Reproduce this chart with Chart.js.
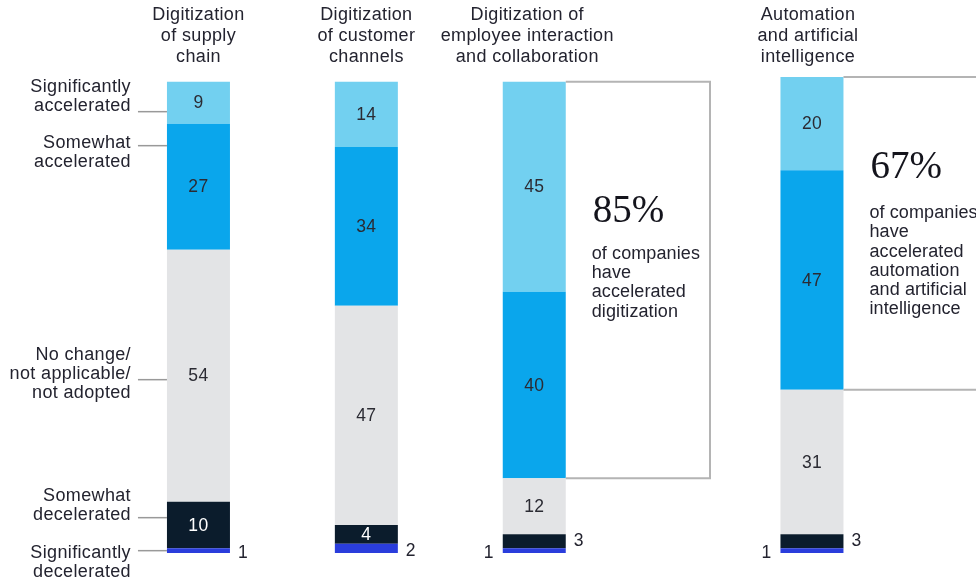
<!DOCTYPE html>
<html>
<head>
<meta charset="utf-8">
<script src="https://cdn.jsdelivr.net/npm/chart.js@4/dist/chart.umd.min.js"></script>
<style>
  html, body { margin: 0; padding: 0; background: #ffffff; }
  #wrap { width: 976px; height: 584px; position: relative; }
</style>
</head>
<body>
<div id="wrap"><canvas id="c" width="976" height="584"></canvas></div>
<script>
// Survey areas (column titles, one line per entry)
const categories = [
  ["Digitization", "of supply", "chain"],
  ["Digitization", "of customer", "channels"],
  ["Digitization of", "employee interaction", "and collaboration"],
  ["Automation", "and artificial", "intelligence"]
];

// Share of respondents, % (bottom of the stack first)
const significantlyDecelerated = [1, 2, 1, 1];
const somewhatDecelerated      = [10, 4, 3, 3];
const noChange                 = [54, 47, 12, 31];
const somewhatAccelerated      = [27, 34, 40, 47];
const significantlyAccelerated = [9, 14, 45, 20];

// Response names shown beside the first column
const responseNames = [
  ["Significantly", "decelerated"],
  ["Somewhat", "decelerated"],
  ["No change/", "not applicable/", "not adopted"],
  ["Somewhat", "accelerated"],
  ["Significantly", "accelerated"]
];

// Callout wording for the highlighted columns
const calloutText = {
  2: ["of companies", "have", "accelerated", "digitization"],
  3: ["of companies", "have", "accelerated", "automation", "and artificial", "intelligence"]
};

// ---- layout and style ----
const columnSlots = [0, 1, 2, 3.654];
const titleShift = [0, 0, -7, -4];
const colors = ["#2a3ddc", "#0b1c2c", "#e3e4e6", "#0aa6ec", "#72d0f0"];
const seriesValues = [significantlyDecelerated, somewhatDecelerated, noChange, somewhatAccelerated, significantlyAccelerated];
const FONT = '"Liberation Sans", Arial, sans-serif';
const SERIF = '"Liberation Serif", "Times New Roman", serif';
const TEXT = "#23232f";

const datasets = seriesValues.map((vals, i) => ({
  label: responseNames[i].join(" "),
  data: vals.map((v, j) => ({ x: columnSlots[j], y: v })),
  backgroundColor: colors[i],
  borderWidth: 0,
  barThickness: 63,
  inflateAmount: 0
}));

// where each response-name leader line meets the first column
const leaderAnchors = [
  { ref: "center", dy: 0,   textDy: 2 },
  { ref: "top",    dy: 16,  textDy: -22 },
  { ref: "center", dy: 4,   textDy: -25 },
  { ref: "top",    dy: 22,  textDy: -3 },
  { ref: "top",    dy: 30,  textDy: -25 }
];

function drawLines(ctx, lines, x, y0, lh) {
  lines.forEach((t, k) => ctx.fillText(t, x, y0 + k * lh));
}

const decorations = {
  id: "decorations",
  afterDatasetsDraw(chart) {
    const ctx = chart.ctx;
    const metas = seriesValues.map((_, i) => chart.getDatasetMeta(i));
    const el = (d, j) => metas[d].data[j].getProps(["x", "y", "base", "width"], true);
    ctx.save();
    ctx.textBaseline = "middle";
    ctx.letterSpacing = "0.35px";

    // column titles
    ctx.fillStyle = TEXT;
    ctx.font = "18px " + FONT;
    ctx.textAlign = "center";
    categories.forEach((lines, j) => {
      const e = el(0, j);
      drawLines(ctx, lines, e.x + titleShift[j], 15, 21);
    });

    // value labels
    categories.forEach((_, j) => {
      const bothOutside = somewhatDecelerated[j] < 4;
      seriesValues.forEach((vals, d) => {
        const v = vals[j];
        const e = el(d, j);
        const cy = (e.y + e.base) / 2;
        ctx.font = "17.5px " + FONT;
        if (v < 4) {
          ctx.fillStyle = TEXT;
          ctx.textAlign = "center";
          const left = d === 0 && bothOutside;
          const x = left ? e.x - e.width / 2 - 14 : e.x + e.width / 2 + 13;
          ctx.fillText(String(v), x, cy + (d === 0 ? 3 : 0));
        } else {
          ctx.fillStyle = d === 1 ? "#ffffff" : "#2b2b33";
          ctx.textAlign = "center";
          ctx.fillText(String(v), e.x, cy + 1);
        }
      });
    });

    // response names with leader lines beside the first column
    ctx.textAlign = "right";
    ctx.font = "18px " + FONT;
    responseNames.forEach((lines, d) => {
      const e = el(d, 0);
      const a = leaderAnchors[d];
      const top = Math.min(e.y, e.base);
      const ly = (a.ref === "top" ? top : (e.y + e.base) / 2) + a.dy;
      const x0 = e.x - e.width / 2;
      ctx.strokeStyle = "#999999";
      ctx.lineWidth = 1.5;
      ctx.beginPath();
      ctx.moveTo(x0 - 29, ly);
      ctx.lineTo(x0, ly);
      ctx.stroke();
      ctx.fillStyle = TEXT;
      drawLines(ctx, lines, x0 - 36, ly + a.textDy, 19);
    });

    // callout boxes around the accelerated share
    const boxLayout = {
      2: { right: 710, pctDy: 140, textDy: 172 },
      3: { right: 990, pctDy: 101, textDy: 136 }
    };
    Object.keys(calloutText).forEach(key => {
      const j = Number(key);
      const topEl = el(4, j), lowEl = el(3, j);
      const x0 = topEl.x + topEl.width / 2;
      const yTop = topEl.y, yBot = lowEl.base;
      const L = boxLayout[j];
      ctx.strokeStyle = "#b4b4b4";
      ctx.lineWidth = 2;
      ctx.beginPath();
      ctx.moveTo(x0, yTop);
      ctx.lineTo(L.right, yTop);
      ctx.lineTo(L.right, yBot);
      ctx.lineTo(x0, yBot);
      ctx.stroke();
      const share = significantlyAccelerated[j] + somewhatAccelerated[j];
      ctx.textAlign = "left";
      ctx.fillStyle = "#14141c";
      ctx.textBaseline = "alphabetic";
      ctx.letterSpacing = "0px";
      ctx.font = "39px " + SERIF;
      ctx.fillText(share + "%", x0 + 27, yTop + L.pctDy);
      ctx.textBaseline = "middle";
      ctx.letterSpacing = "0.1px";
      ctx.font = "18px " + FONT;
      ctx.fillStyle = TEXT;
      drawLines(ctx, calloutText[j], x0 + 26, yTop + L.textDy, 19.3);
    });
    ctx.restore();
  }
};

new Chart(document.getElementById("c"), {
  type: "bar",
  data: { datasets },
  options: {
    responsive: false,
    animation: false,
    layout: { padding: { top: 77, bottom: 31, left: 0, right: 0 } },
    plugins: { legend: { display: false }, tooltip: { enabled: false } },
    scales: {
      x: { type: "linear", min: -1.182, max: 4.631, offset: false, stacked: true, display: false },
      y: { min: 0, max: 102, stacked: true, display: false }
    }
  },
  plugins: [decorations]
});
</script>
</body>
</html>
